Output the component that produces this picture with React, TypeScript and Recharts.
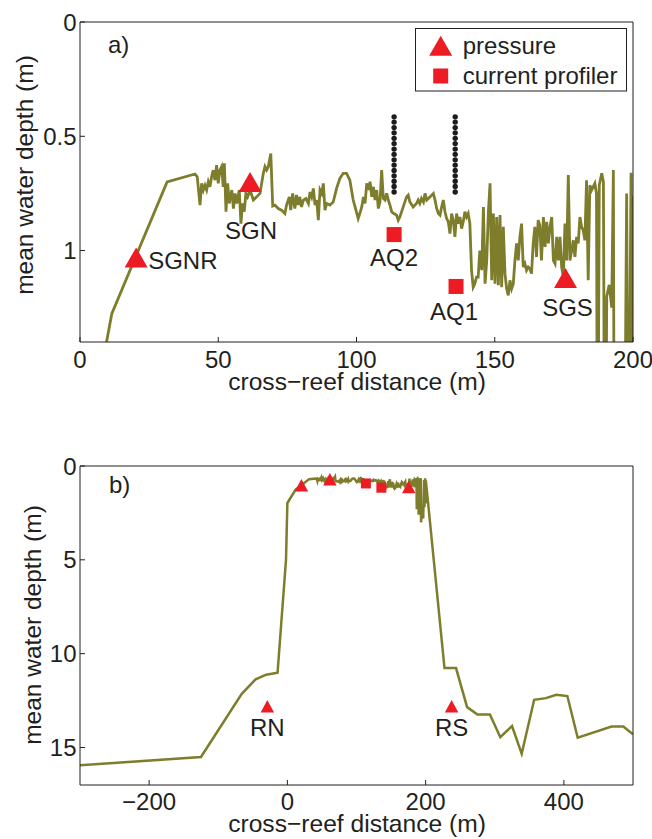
import React from "react";
import { ComposedChart, Line, Scatter, XAxis, YAxis } from "recharts";

// cross-reef profile over the reef flat: [distance (m), mean depth (m)]
const reefProfile: [number, number][] = [
  [0, 1.97], [9.6, 1.4], [11.5, 1.276], [31.5, 0.7], [41.6, 0.665], [42.4, 0.677],
  [43.4, 0.801], [44.0, 0.706], [44.6, 0.735], [45.2, 0.714], [45.8, 0.735], [46.4, 0.699],
  [47.0, 0.721], [47.6, 0.677], [48.2, 0.648], [48.8, 0.692], [49.4, 0.626], [50.0, 0.706],
  [50.6, 0.648], [51.2, 0.633], [51.8, 0.721], [52.2, 0.618], [52.8, 0.83], [53.4, 0.706],
  [54.0, 0.794], [54.9, 0.735], [55.5, 0.816], [56.1, 0.75], [56.7, 0.794], [57.6, 0.735],
  [58.2, 0.882], [58.8, 0.794], [59.4, 0.83], [60.0, 0.75], [60.6, 0.765], [61.5, 0.735],
  [62.7, 0.779], [63.9, 0.765], [65.1, 0.75], [66.3, 0.662], [66.9, 0.633], [67.5, 0.648],
  [68.1, 0.633], [69.0, 0.575], [69.7, 0.805], [70.5, 0.801], [71.7, 0.816], [72.9, 0.823],
  [74.1, 0.838], [74.7, 0.801], [75.7, 0.765], [76.2, 0.823], [76.9, 0.75], [77.7, 0.816],
  [78.3, 0.757], [78.9, 0.801], [79.5, 0.765], [80.1, 0.809], [80.8, 0.779], [81.7, 0.772],
  [82.6, 0.794], [83.2, 0.743], [83.8, 0.765], [84.4, 0.728], [85.0, 0.801], [85.6, 0.779],
  [86.2, 0.867], [86.8, 0.735], [87.4, 0.75], [88.0, 0.706], [88.6, 0.823], [89.2, 0.794],
  [90.4, 0.801], [91.6, 0.787], [92.8, 0.728], [94.0, 0.684], [95.2, 0.662], [96.4, 0.662],
  [97.6, 0.692], [98.8, 0.779], [99.8, 0.823], [100.6, 0.86], [101.2, 0.838], [101.9, 0.809],
  [102.5, 0.765], [103.1, 0.794], [103.7, 0.706], [104.3, 0.735], [104.9, 0.699], [105.5, 0.765],
  [106.1, 0.721], [106.7, 0.779], [107.3, 0.735], [107.9, 0.816], [108.5, 0.787], [109.1, 0.648],
  [109.7, 0.772], [110.3, 0.779], [110.9, 0.75], [111.5, 0.779], [112.1, 0.801], [112.7, 0.83],
  [113.5, 0.838], [114.5, 0.845], [115.1, 0.867], [115.7, 0.852], [116.9, 0.809], [118.1, 0.765],
  [118.7, 0.757], [119.3, 0.787], [120.5, 0.809], [121.7, 0.794], [122.3, 0.779], [122.9, 0.794],
  [123.5, 0.772], [124.2, 0.787], [124.8, 0.75], [125.4, 0.779], [126.0, 0.772], [126.6, 0.765],
  [127.8, 0.75], [128.4, 0.779], [129.0, 0.816], [129.6, 0.838], [130.2, 0.845], [130.8, 0.809],
  [131.4, 0.779], [132.0, 0.83], [132.6, 0.86], [133.2, 0.874], [133.8, 0.926], [134.4, 0.838],
  [135.0, 0.867], [135.6, 0.94], [136.2, 0.838], [136.8, 0.882], [137.4, 0.853], [138.0, 0.904],
  [138.6, 0.874], [139.2, 0.83], [139.8, 0.853], [140.4, 0.838], [141.0, 0.882], [141.6, 1.086],
  [142.2, 1.16], [142.8, 1.145], [143.4, 1.116], [144.0, 1.116], [144.6, 1.0], [145.3, 1.086],
  [145.9, 0.809], [146.5, 1.145], [147.1, 1.043], [147.7, 0.83], [148.3, 0.706], [148.9, 1.13],
  [149.5, 0.838], [150.1, 1.145], [150.7, 0.853], [151.3, 1.152], [151.9, 0.845], [152.5, 1.16],
  [153.1, 0.896], [153.7, 1.101], [154.3, 1.167], [154.9, 1.196], [155.5, 1.13], [156.1, 1.167],
  [156.7, 1.145], [157.3, 1.043], [157.9, 0.969], [158.5, 1.043], [159.1, 0.94], [159.7, 0.882],
  [160.3, 1.072], [160.9, 1.057], [161.5, 1.086], [162.1, 1.072], [162.7, 1.079], [163.3, 1.101],
  [163.9, 0.969], [164.5, 0.896], [165.1, 1.028], [165.7, 0.867], [166.3, 0.889], [166.9, 1.043],
  [167.6, 0.853], [168.2, 0.984], [168.8, 0.874], [169.4, 0.969], [170.0, 0.896], [170.6, 0.853],
  [171.2, 1.043], [171.8, 1.057], [172.4, 0.94], [173.0, 1.043], [173.6, 0.94], [174.2, 1.072],
  [174.8, 1.116], [175.4, 0.882], [176.0, 1.043], [176.6, 0.67], [177.2, 1.043], [177.8, 1.0],
  [178.4, 0.955], [179.0, 1.028], [179.6, 0.94], [180.2, 0.969], [180.8, 0.853], [181.4, 0.896],
  [182.0, 0.911], [182.6, 0.955], [183.2, 0.692], [183.8, 1.13], [184.4, 0.714], [185.0, 0.736],
  [185.6, 0.721], [186.2, 0.706], [186.8, 0.75], [187.2, 2.3], [187.8, 0.714], [188.7, 0.662],
  [189.3, 0.7], [189.9, 2.6], [190.5, 1.2], [191.4, 1.15], [192.3, 1.25], [192.9, 0.648],
  [193.4, 3.0], [194.5, 2.5], [196.5, 2.8], [197.7, 0.75], [198.3, 2.2], [199.3, 0.66],
  [199.8, 2.0], [200.3, 0.76],
];

// fore reef and back reef (panel b only)
const foreReef: [number, number][] = [
  [-300, 15.95], [-125, 15.51], [-66, 12.14], [-46, 11.37], [-30.6, 11.12], [-14.2, 11.02], [-2, 5.0],
];
const backReef: [number, number][] = [
  [227.3, 10.77], [244, 10.77], [260, 12.85], [275, 13.24], [293, 13.24], [308, 14.45],
  [325, 13.86], [339, 15.34], [357, 12.46], [374, 12.37], [389, 12.19], [405, 12.26],
  [420, 14.48], [469, 13.88], [486, 13.88], [500, 14.3],
];

const pressureNames = ["SGNR", "SGN", "SGS"];
const pressureX = [20.3, 61.5, 175.6];
const pressureDepth = [1.03, 0.7, 1.12];

const profilerNames = ["AQ2", "AQ1"];
const profilerX = [113.6, 136];
const profilerDepth = [0.93, 1.157];

const offshoreNames = ["RN", "RS"];
const offshoreX = [-29, 237.6];
const offshoreDepth = [12.8, 12.8];

const frameX = [113.6, 135.7];
const frameDepths = [
  0.415, 0.438, 0.462, 0.485, 0.509, 0.532, 0.556, 0.579, 0.603, 0.626, 0.65, 0.673, 0.697, 0.72, 0.744,
];

const xTicksA = [0, 50, 100, 150, 200];
const yTicksA = [0, 0.5, 1];
const xTicksB = [-200, 0, 200, 400];
const yTicksB = [0, 5, 10, 15];

const OLIVE = "#7d7d2c";
const RED = "#ed1c24";
const INK = "#231f20";
const FONT = "'Liberation Sans', Arial, Helvetica, sans-serif";

const labelPlace: Record<string, { dx: number; dy: number; anchor: string }> = {
  SGNR: { dx: 12, dy: 3, anchor: "start" },
  SGN: { dx: 1, dy: 49, anchor: "middle" },
  SGS: { dx: 2, dy: 30, anchor: "middle" },
  AQ2: { dx: 0, dy: 23, anchor: "middle" },
  AQ1: { dx: -2, dy: 25, anchor: "middle" },
  RN: { dx: 0, dy: 21, anchor: "middle" },
  RS: { dx: 0, dy: 21, anchor: "middle" },
};

const toPts = (arr: [number, number][]) => arr.map(([x, d]) => ({ x, d }));
const points = (names: string[], xs: number[], ds: number[]) =>
  names.map((name, i) => ({ name, x: xs[i], d: ds[i] }));

const pressurePts = points(pressureNames, pressureX, pressureDepth);
const profilerPts = points(profilerNames, profilerX, profilerDepth);
const offshorePts = points(offshoreNames, offshoreX, offshoreDepth);
const framePts = frameX.flatMap((x) => frameDepths.map((d) => ({ x, d })));

const lineA = toPts(reefProfile);
const lineB = toPts([...foreReef, ...reefProfile, ...backReef]);

const nameLabel = (p: any, show: boolean) => {
  if (!show || !p.payload?.name) return null;
  const pl = labelPlace[p.payload.name];
  return (
    <text
      x={p.cx + pl.dx}
      y={p.cy + pl.dy}
      dy="0.35em"
      textAnchor={pl.anchor}
      fontSize={24}
      fontFamily={FONT}
      fill={INK}
    >
      {p.payload.name}
    </text>
  );
};

const triangle = (w: number, h: number, show: boolean) => (p: any) => (
  <g>
    <path
      d={`M${p.cx},${p.cy - h / 2} L${p.cx + w / 2},${p.cy + h / 2} L${p.cx - w / 2},${p.cy + h / 2} Z`}
      fill={RED}
    />
    {nameLabel(p, show)}
  </g>
);

const square = (s: number, show: boolean) => (p: any) => (
  <g>
    <rect x={p.cx - s / 2} y={p.cy - s / 2} width={s} height={s} fill={RED} />
    {nameLabel(p, show)}
  </g>
);

const frameDot = (p: any) => <circle cx={p.cx} cy={p.cy} r={2.7} fill="#1c1c1c" />;

const fmt = (v: number) => String(v).replace("-", "\u2212");
const axisLine = { stroke: INK, strokeWidth: 1 };
const tickFont = { fontSize: 24, fill: INK, fontFamily: FONT };

function frame(xDomain: number[], yDomain: number[], xTicks: number[], yTicks: number[], xHeight: number, xMargin: number) {
  return [
    <XAxis
      key="xb"
      xAxisId={0}
      type="number"
      dataKey="x"
      domain={xDomain}
      ticks={xTicks}
      interval={0}
      allowDataOverflow
      height={xHeight}
      tickSize={-5}
      tickMargin={xMargin}
      tick={tickFont}
      tickFormatter={fmt}
      axisLine={axisLine}
      tickLine={axisLine}
    />,
    <XAxis
      key="xt"
      xAxisId="top"
      orientation="top"
      type="number"
      domain={xDomain}
      ticks={xTicks}
      interval={0}
      allowDataOverflow
      height={1}
      tickSize={-5}
      tick={false}
      axisLine={axisLine}
      tickLine={axisLine}
    />,
    <YAxis
      key="yl"
      yAxisId={0}
      type="number"
      dataKey="d"
      domain={yDomain}
      ticks={yTicks}
      interval={0}
      reversed
      allowDataOverflow
      width={80}
      tickSize={-5}
      tickMargin={8.5}
      tick={tickFont}
      axisLine={axisLine}
      tickLine={axisLine}
    />,
    <YAxis
      key="yr"
      yAxisId="right"
      orientation="right"
      type="number"
      domain={yDomain}
      ticks={yTicks}
      interval={0}
      reversed
      allowDataOverflow
      width={1}
      tickSize={-5}
      tick={false}
      axisLine={axisLine}
      tickLine={axisLine}
    />,
  ];
}

export default function App() {
  return (
    <div style={{ position: "absolute", left: 0, top: 0, width: 652, height: 839, background: "#fff" }}>
      <div style={{ position: "absolute", left: 0, top: 0 }}>
        <ComposedChart width={652} height={400} margin={{ top: 21, right: 18, bottom: 0, left: 0 }}>
          {frame([0, 200], [0, 1.4], xTicksA, yTicksA, 58, 14)}
          <Line data={lineA} dataKey="d" stroke={OLIVE} strokeWidth={2.8} dot={false} isAnimationActive={false} />
          <Scatter data={framePts} shape={frameDot} isAnimationActive={false} />
          <Scatter data={pressurePts} shape={triangle(23, 20, true)} isAnimationActive={false} />
          <Scatter data={profilerPts} shape={square(15, true)} isAnimationActive={false} />
        </ComposedChart>
      </div>
      <div style={{ position: "absolute", left: 0, top: 444 }}>
        <ComposedChart width={652} height={395} margin={{ top: 21, right: 18, bottom: 0, left: 0 }}>
          {frame([-300, 500], [0, 17], xTicksB, yTicksB, 54, 13)}
          <Line data={lineB} dataKey="d" stroke={OLIVE} strokeWidth={2.5} dot={false} isAnimationActive={false} />
          <Scatter data={pressurePts} shape={triangle(13.5, 12.5, false)} isAnimationActive={false} />
          <Scatter data={profilerPts} shape={square(10, false)} isAnimationActive={false} />
          <Scatter data={offshorePts} shape={triangle(13.5, 12.5, true)} isAnimationActive={false} />
        </ComposedChart>
      </div>
      <svg
        width={652}
        height={839}
        style={{ position: "absolute", left: 0, top: 0, pointerEvents: "none" }}
        fontFamily={FONT}
        fill={INK}
      >
        <text x={108} y={53} fontSize={24}>a)</text>
        <text x={109} y={493} fontSize={24}>b)</text>
        <text x={357} y={390} fontSize={24.6} textAnchor="middle">cross{"\u2212"}reef distance (m)</text>
        <text x={357} y={832} fontSize={24.6} textAnchor="middle">cross{"\u2212"}reef distance (m)</text>
        <text transform="translate(33,175) rotate(-90)" fontSize={24.5} textAnchor="middle">mean water depth (m)</text>
        <text transform="translate(41,625) rotate(-90)" fontSize={24.5} textAnchor="middle">mean water depth (m)</text>
        <rect x={415.5} y={28.5} width={211} height={62.5} fill="#fff" stroke={INK} strokeWidth={1} />
        <path d="M440.7,35.7 L452.2,55.7 L429.2,55.7 Z" fill={RED} />
        <rect x={433.2} y={68.5} width={15} height={15} fill={RED} />
        <text x={462.7} y={45.7} dy="0.35em" fontSize={24}>pressure</text>
        <text x={462.7} y={76} dy="0.35em" fontSize={24}>current profiler</text>
      </svg>
    </div>
  );
}
